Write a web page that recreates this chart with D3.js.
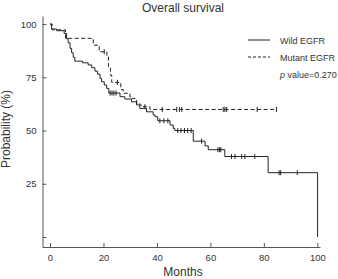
<!DOCTYPE html>
<html>
<head>
<meta charset="utf-8">
<script src="https://cdn.jsdelivr.net/npm/d3@7"></script>
<style>
  body { margin: 0; background: #fff; }
  svg { display: block; font-family: "Liberation Sans", Arial, sans-serif; }
  .axis path, .axis line { stroke: #555; }
  .axis text { fill: #333; font-size: 9.5px; }
</style>
</head>
<body>
<svg width="338" height="279"></svg>
<script>
// Kaplan-Meier steps: [month, survival % after the drop]
var wildSteps = [
  [0, 100], [0.6, 97.7], [2.5, 96.9], [5.3, 95.6], [6.2, 93.1], [6.8, 91.2], [7.5, 88.6],
  [8.1, 86.5], [8.7, 84.4], [9.3, 82.6], [12.2, 81.8], [14.3, 80.8], [15.6, 79.5],
  [16.8, 77.9], [17.8, 76.5], [18.7, 74.5], [19.3, 72.9], [20.3, 71.4], [21.2, 69.8],
  [22.0, 67.6], [26.2, 65.9], [28.0, 64.8], [30.5, 63.5], [32.4, 62.0], [33.6, 60.4],
  [36.1, 58.8], [38.6, 57.3], [39.3, 56.5], [40.3, 54.6], [44.9, 52.6], [46.1, 51.0],
  [46.7, 50.0], [53.6, 45.0], [58.0, 42.8], [59.2, 41.0], [65.4, 37.8], [81.6, 30.2],
  [100.1, 0]
];
var wildCensor = [22.5, 23.2, 23.9, 24.7, 41.1, 42.6, 44.1, 47.8, 49.0, 50.3, 51.5, 52.8,
  56.7, 62.8, 63.4, 63.9, 67.9, 69.2, 71.7, 72.9, 76.6, 85.7, 86.3, 92.5];

var mutantSteps = [
  [0, 100], [0.8, 97.3], [5.8, 93.3], [16.2, 90.1], [18.4, 87.0], [21.3, 84.6],
  [21.9, 80.0], [22.6, 76.0], [23.1, 72.6], [26.5, 69.2], [27.4, 67.5], [29.9, 65.9],
  [30.5, 65.1], [31.8, 64.3], [32.4, 62.8], [33.6, 62.0], [34.3, 61.2], [37.4, 59.9],
  [84.7, 59.9]
];
var mutantCensor = [20.3, 25.2, 35.5, 42.0, 47.4, 48.4, 49.3, 64.8, 65.4, 66.1, 77.5, 84.7];

var xTicks = [0, 20, 40, 60, 80, 100];
var yTicks = [0, 25, 50, 75, 100];
var legendLabels = ["Wild EGFR", "Mutant EGFR"];
var pValue = "0.270";

var svg = d3.select("svg");

var x = d3.scaleLinear().domain([-2.8, 101]).range([42.5, 320]);
var y = d3.scaleLinear().domain([-4.7, 103.8]).range([247, 16]);

svg.append("g")
    .attr("class", "axis")
    .attr("transform", "translate(0,247)")
    .call(d3.axisBottom(x).tickValues(xTicks).tickSize(-4).tickSizeOuter(0).tickPadding(7));

svg.append("g")
    .attr("class", "axis")
    .attr("transform", "translate(42.5,0)")
    .call(d3.axisLeft(y).tickValues(yTicks).tickSize(-4).tickSizeOuter(0).tickPadding(6)
      .tickFormat(function(d) { return d === 0 ? "" : d; }));

var line = d3.line()
    .x(function(d) { return x(d[0]); })
    .y(function(d) { return y(d[1]); })
    .curve(d3.curveStepAfter);

function survAt(steps, t) {
  var s = steps[0][1];
  steps.forEach(function(d) { if (d[0] <= t) s = d[1]; });
  return s;
}

function drawCurve(steps, censor, dash) {
  svg.append("path")
      .datum(steps)
      .attr("d", line)
      .attr("fill", "none")
      .attr("stroke", "#222")
      .attr("stroke-width", 1)
      .attr("stroke-dasharray", dash);

  svg.selectAll(null)
    .data(censor)
    .enter().append("line")
      .attr("x1", function(d) { return x(d); })
      .attr("x2", function(d) { return x(d); })
      .attr("y1", function(d) { return y(survAt(steps, d)) - 2.5; })
      .attr("y2", function(d) { return y(survAt(steps, d)) + 2.5; })
      .attr("stroke", "#222")
      .attr("stroke-width", 1);
}

drawCurve(wildSteps, wildCensor, null);
drawCurve(mutantSteps, mutantCensor, "4,2.5");

// title and axis titles
svg.append("text")
    .attr("x", 183).attr("y", 12)
    .attr("text-anchor", "middle")
    .style("font-size", "12px").attr("fill", "#333")
    .text("Overall survival");

svg.append("text")
    .attr("x", 183).attr("y", 276)
    .attr("text-anchor", "middle")
    .style("font-size", "12px").attr("fill", "#333")
    .text("Months");

svg.append("text")
    .attr("transform", "translate(10,129) rotate(-90)")
    .attr("text-anchor", "middle")
    .style("font-size", "12px").attr("fill", "#333")
    .text("Probability (%)");

// legend
var legend = svg.append("g").attr("transform", "translate(248,40)");
legendLabels.forEach(function(lab, i) {
  legend.append("line")
      .attr("x1", 0).attr("x2", 22)
      .attr("y1", i * 17).attr("y2", i * 17)
      .attr("stroke", "#222")
      .attr("stroke-dasharray", i === 1 ? "3,2" : null);
  legend.append("text")
      .attr("x", 32).attr("y", i * 17 + 3.5)
      .style("font-size", "9px").attr("fill", "#333")
      .text(lab);
});
var pt = legend.append("text")
    .attr("x", 32).attr("y", 38)
    .style("font-size", "9px").attr("fill", "#333");
pt.append("tspan").style("font-style", "italic").text("p");
pt.append("tspan").text(" value=" + pValue);
</script>
</body>
</html>
